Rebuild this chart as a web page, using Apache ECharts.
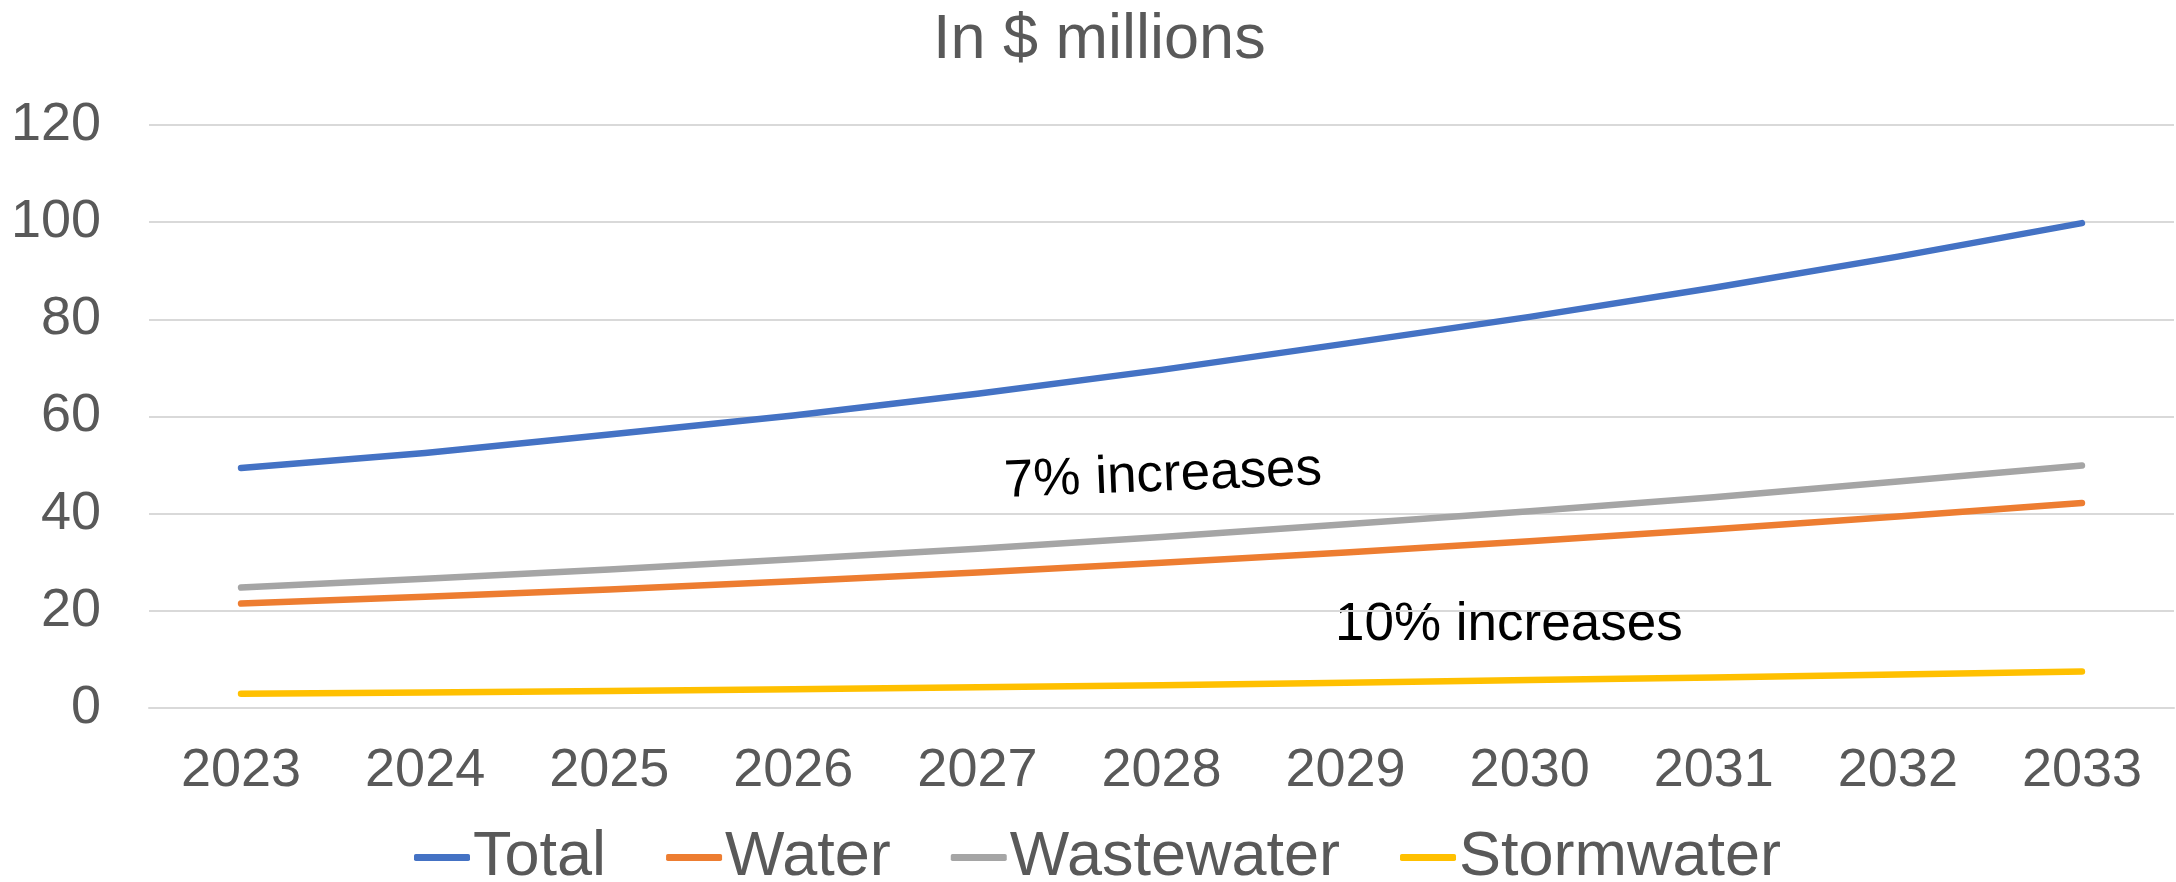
<!DOCTYPE html>
<html>
<head>
<meta charset="utf-8">
<script src="https://cdn.jsdelivr.net/npm/echarts@6/dist/echarts.min.js"></script>
<style>
html,body{margin:0;padding:0;background:#fff;}
#chart{width:2176px;height:882px;}
</style>
</head>
<body>
<div id="chart"></div>
<script>
const years = ['2023','2024','2025','2026','2027','2028','2029','2030','2031','2032','2033'];
const total = [49.4, 52.5, 56.3, 60.2, 64.7, 69.6, 75.0, 80.5, 86.5, 92.9, 99.8];
const water = [21.5, 22.9, 24.4, 26.1, 27.9, 29.9, 32.0, 34.3, 36.8, 39.4, 42.2];
const wastewater = [24.8, 26.6, 28.5, 30.6, 32.8, 35.2, 37.8, 40.5, 43.4, 46.6, 49.9];
const stormwater = [2.95, 3.2, 3.5, 3.85, 4.25, 4.7, 5.2, 5.75, 6.3, 6.9, 7.5];
const seriesNames = ['Total','Water','Wastewater','Stormwater'];
const colors = ['#4472C4','#ED7D31','#A5A5A5','#FFC000'];
const titleText = 'In $ millions';
const note7 = '7% increases';
const note10 = '10% increases';

const FONT = '"Liberation Sans", Arial, sans-serif';
const chart = echarts.init(document.getElementById('chart'));
const dataSets = [total, water, wastewater, stormwater];

chart.setOption({
  animation: false,
  backgroundColor: '#ffffff',
  color: colors,
  title: {
    text: titleText,
    left: 933,
    top: 9,
    padding: 0,
    textStyle: {fontFamily: FONT, fontSize: 63, fontWeight: 'normal', color: '#595959'}
  },
  legend: {
    data: seriesNames,
    left: 414,
    top: 826,
    padding: 0,
    itemWidth: 56,
    itemHeight: 7,
    itemGap: 60,
    icon: 'roundRect',
    textStyle: {fontFamily: FONT, fontSize: 63, color: '#595959', padding: [0,0,0,-2]}
  },
  grid: {left: 149, right: 2, top: 125, bottom: 174},
  xAxis: {
    type: 'category',
    data: years,
    boundaryGap: true,
    axisLine: {show: true, lineStyle: {color: '#d9d9d9', width: 2}},
    axisTick: {show: false},
    axisLabel: {fontFamily: FONT, fontSize: 54, color: '#595959', margin: 36, interval: 0}
  },
  yAxis: {
    type: 'value',
    min: 0, max: 120, interval: 20,
    axisLine: {show: false},
    axisTick: {show: false},
    splitLine: {lineStyle: {color: '#d9d9d9', width: 2}},
    axisLabel: {fontFamily: FONT, fontSize: 54, color: '#595959', margin: 48}
  },
  series: seriesNames.map((n, i) => ({
    name: n,
    type: 'line',
    data: dataSets[i],
    showSymbol: false,
    symbol: 'none',
    lineStyle: {width: 6.5, color: colors[i], cap: 'round', join: 'round'},
    itemStyle: {color: colors[i]},
    z: 10 - i
  })),
  graphic: [
    {
      type: 'text',
      x: 1163, y: 476,
      rotation: 2.3 * Math.PI / 180,
      style: {text: note7, x: 0, y: 0, font: '53px ' + FONT, fill: '#000000', textAlign: 'center', textVerticalAlign: 'middle'}
    },
    {
      type: 'text',
      x: 1335, y: 625,
      style: {text: note10, x: 0, y: 0, font: '53px ' + FONT, fill: '#000000', textAlign: 'left', textVerticalAlign: 'middle'}
    }
  ]
});
</script>
</body>
</html>
